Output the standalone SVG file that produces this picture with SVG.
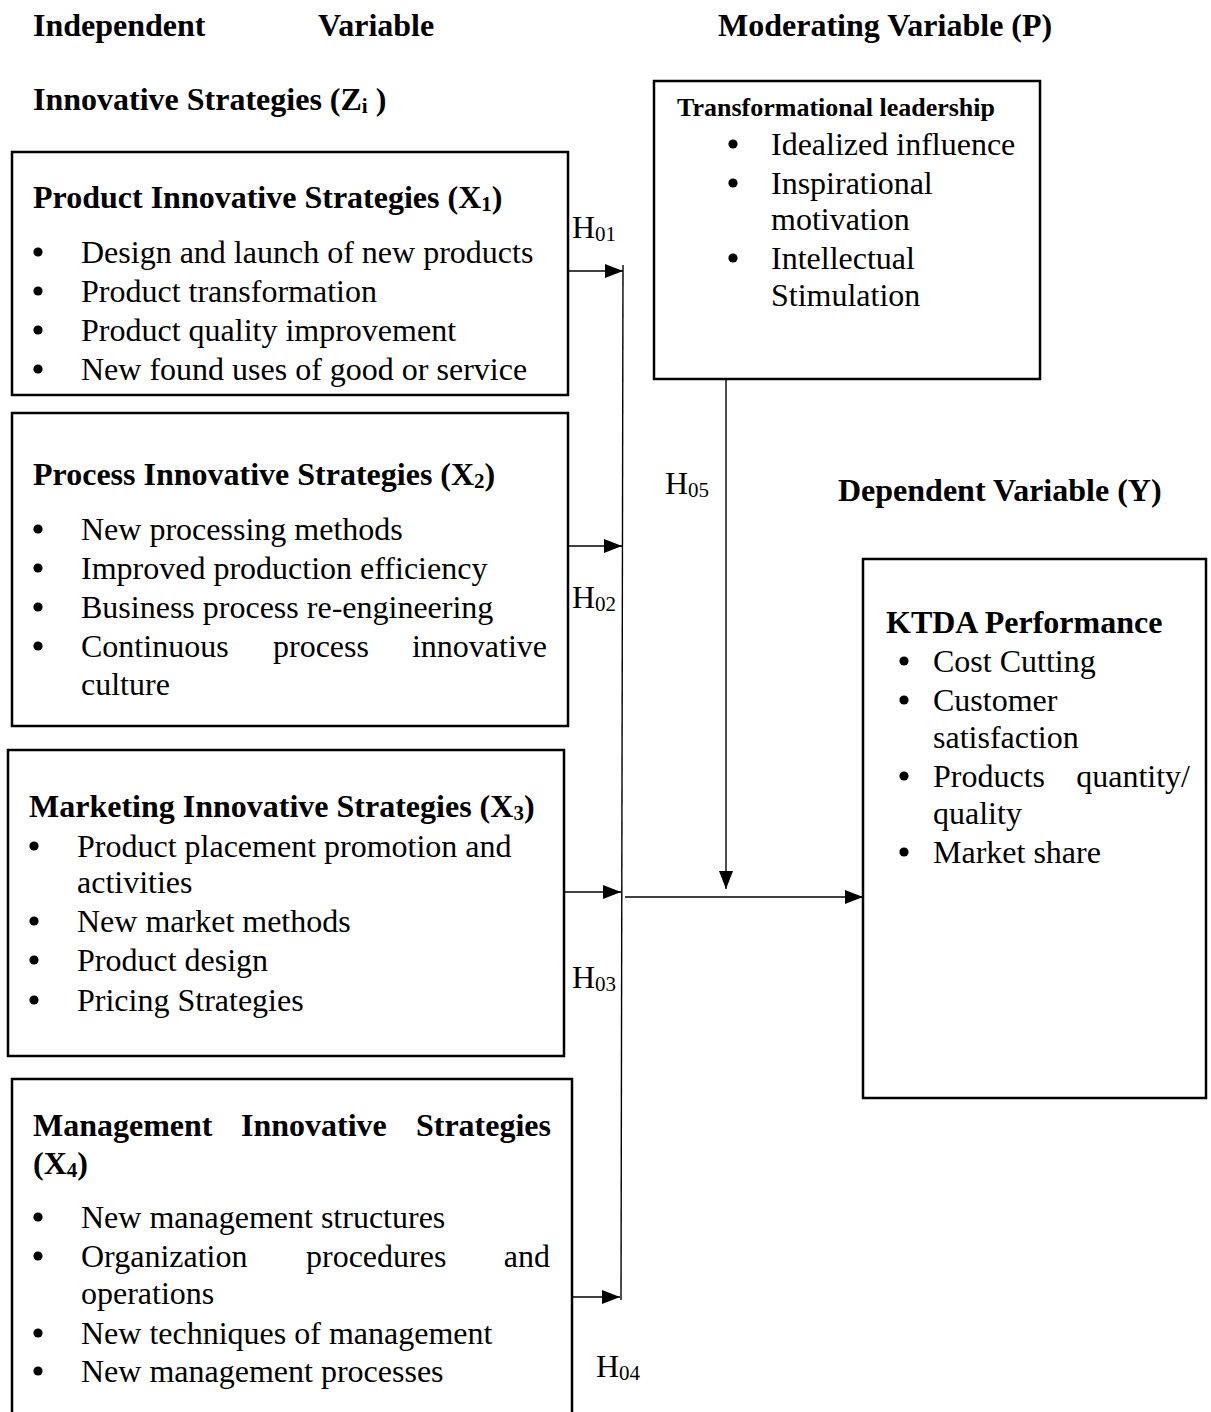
<svg xmlns="http://www.w3.org/2000/svg" width="1211" height="1412" viewBox="0 0 1211 1412">
<style>
text{font-family:"Liberation Serif","Times New Roman",serif;font-size:32px;fill:#000}
.b{font-weight:bold}
.s{font-size:21px}
.box{fill:#fff;stroke:#000;stroke-width:2.5}
.ln{stroke:#000;stroke-width:1.4;fill:none}
</style>
<defs>
<marker id="ah" viewBox="0 0 18 14" refX="18" refY="7" markerWidth="18" markerHeight="14" markerUnits="userSpaceOnUse" orient="auto">
<path d="M0,0 L18,7 L0,14 Z" fill="#000"/>
</marker>
<circle id="dot" r="4.6" fill="#000"/>
</defs>
<rect width="1211" height="1412" fill="#fff"/>

<g id="headers">
<text class="b" x="33" y="36">Independent</text>
<text class="b" x="318" y="36">Variable</text>
<text class="b" x="718" y="36">Moderating Variable (P)</text>
<text class="b" x="33" y="110">Innovative Strategies (Z<tspan class="s" dy="3">i</tspan><tspan dy="-3"> )</tspan></text>
<text class="b" x="838" y="501">Dependent Variable (Y)</text>
</g>

<g id="x1">
<rect class="box" x="12" y="152" width="556" height="243"/>
<text class="b" x="33" y="208">Product Innovative Strategies (X<tspan class="s" dy="3">1</tspan><tspan dy="-3">)</tspan></text>
<use href="#dot" x="38" y="252"/><text x="81" y="263">Design and launch of new products</text>
<use href="#dot" x="38" y="291"/><text x="81" y="302">Product transformation</text>
<use href="#dot" x="38" y="330"/><text x="81" y="341">Product quality improvement</text>
<use href="#dot" x="38" y="369"/><text x="81" y="380">New found uses of good or service</text>
</g>

<g id="x2">
<rect class="box" x="12" y="413" width="556" height="313"/>
<text class="b" x="33" y="485">Process Innovative Strategies (X<tspan class="s" dy="3">2</tspan><tspan dy="-3">)</tspan></text>
<use href="#dot" x="38" y="529"/><text x="81" y="540">New processing methods</text>
<use href="#dot" x="38" y="568"/><text x="81" y="579">Improved  production efficiency</text>
<use href="#dot" x="38" y="607"/><text x="81" y="618">Business process re-engineering</text>
<use href="#dot" x="38" y="646"/><text x="81" y="657">Continuous</text><text x="273" y="657">process</text><text x="547" y="657" text-anchor="end">innovative</text>
<text x="81" y="695">culture</text>
</g>

<g id="x3">
<rect class="box" x="8" y="750" width="556" height="306"/>
<text class="b" x="29" y="817">Marketing Innovative Strategies (X<tspan class="s" dy="3">3</tspan><tspan dy="-3">)</tspan></text>
<use href="#dot" x="34" y="846"/><text x="77" y="857">Product placement promotion and</text>
<text x="77" y="893">activities</text>
<use href="#dot" x="34" y="921"/><text x="77" y="932">New market methods</text>
<use href="#dot" x="34" y="960"/><text x="77" y="971">Product design</text>
<use href="#dot" x="34" y="1000"/><text x="77" y="1011">Pricing Strategies</text>
</g>

<g id="x4">
<rect class="box" x="12" y="1079" width="560" height="360"/>
<text class="b" x="33" y="1136">Management</text><text class="b" x="241" y="1136">Innovative</text><text class="b" x="551" y="1136" text-anchor="end">Strategies</text>
<text class="b" x="33" y="1174">(X<tspan class="s" dy="3">4</tspan><tspan dy="-3">)</tspan></text>
<use href="#dot" x="38" y="1217"/><text x="81" y="1228">New management structures</text>
<use href="#dot" x="38" y="1256"/><text x="81" y="1267">Organization</text><text x="306" y="1267">procedures</text><text x="550" y="1267" text-anchor="end">and</text>
<text x="81" y="1304">operations</text>
<use href="#dot" x="38" y="1333"/><text x="81" y="1344">New techniques of management</text>
<use href="#dot" x="38" y="1371"/><text x="81" y="1382">New management processes</text>
</g>

<g id="moderator">
<rect class="box" x="654" y="81" width="386" height="298"/>
<text class="b" x="677" y="116" style="font-size:26px">Transformational leadership</text>
<use href="#dot" x="733" y="144"/><text x="771" y="155">Idealized influence</text>
<use href="#dot" x="733" y="183"/><text x="771" y="194">Inspirational</text>
<text x="771" y="230">motivation</text>
<use href="#dot" x="733" y="258"/><text x="771" y="269">Intellectual</text>
<text x="771" y="306">Stimulation</text>
</g>

<g id="dependent">
<rect class="box" x="863" y="559" width="343" height="539"/>
<text class="b" x="886" y="633">KTDA Performance</text>
<use href="#dot" x="904" y="661"/><text x="933" y="672">Cost Cutting</text>
<use href="#dot" x="904" y="700"/><text x="933" y="711">Customer</text>
<text x="933" y="748">satisfaction</text>
<use href="#dot" x="904" y="776"/><text x="933" y="787">Products</text><text x="1190" y="787" text-anchor="end">quantity/</text>
<text x="933" y="824">quality</text>
<use href="#dot" x="904" y="852"/><text x="933" y="863">Market share</text>
</g>

<g id="connectors">
<line class="ln" x1="623" y1="265" x2="621" y2="1300"/>
<line class="ln" x1="568" y1="271" x2="623" y2="271" marker-end="url(#ah)"/>
<line class="ln" x1="568" y1="546" x2="622" y2="546" marker-end="url(#ah)"/>
<line class="ln" x1="564" y1="892" x2="621" y2="892" marker-end="url(#ah)"/>
<line class="ln" x1="572" y1="1297" x2="620" y2="1297" marker-end="url(#ah)"/>
<line class="ln" x1="625" y1="897" x2="863" y2="897" marker-end="url(#ah)"/>
<line class="ln" x1="726" y1="380" x2="726" y2="889" marker-end="url(#ah)"/>
</g>

<g id="labels">
<text x="572" y="238">H<tspan class="s" dy="3">01</tspan></text>
<text x="572" y="608">H<tspan class="s" dy="3">02</tspan></text>
<text x="572" y="988">H<tspan class="s" dy="3">03</tspan></text>
<text x="596" y="1377">H<tspan class="s" dy="3">04</tspan></text>
<text x="665" y="494">H<tspan class="s" dy="3">05</tspan></text>
</g>
</svg>
